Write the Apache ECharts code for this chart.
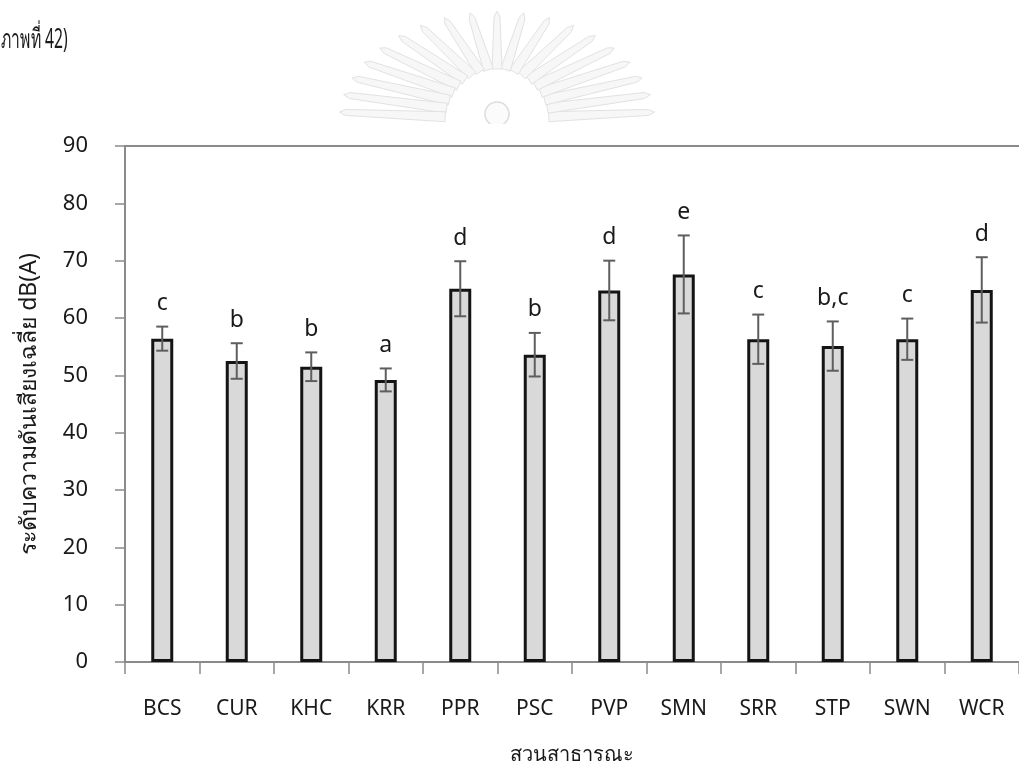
<!DOCTYPE html>
<html>
<head>
<meta charset="utf-8">
<script src="https://cdn.jsdelivr.net/npm/echarts@6/dist/echarts.min.js"></script>
<style>
  html, body { margin: 0; padding: 0; background: #ffffff; }
  #chart { width: 1019px; height: 770px; }
</style>
</head>
<body>
<div id="chart"></div>
<script>
// Mean sound pressure level per public park, with error margins and group letters
const categories = ['BCS', 'CUR', 'KHC', 'KRR', 'PPR', 'PSC', 'PVP', 'SMN', 'SRR', 'STP', 'SWN', 'WCR'];
const meanLevels = [56.4, 52.5, 51.5, 49.2, 65.1, 53.6, 64.8, 67.6, 56.3, 55.1, 56.3, 64.9];
const errorMargins = [2.1, 3.1, 2.5, 2.0, 4.8, 3.8, 5.2, 6.8, 4.3, 4.3, 3.6, 5.7];
const groupLetters = ['c', 'b', 'b', 'a', 'd', 'b', 'd', 'e', 'c', 'b,c', 'c', 'd'];
const yMin = 0;
const yMax = 90;
const yStep = 10;

const FONT = '"Noto Sans", "DejaVu Sans", sans-serif';
const AXIS_GREY = '#8a8a8a';

const errorData = categories.map((c, i) => [i, meanLevels[i] - errorMargins[i], meanLevels[i] + errorMargins[i]]);

// Faint sunburst emblem behind the heading
function emblem() {
  const cx = 497, cy = 121;
  const children = [];
  const n = 19;
  for (let k = 0; k < n; k++) {
    const a = Math.PI * (k + 0.5) / n;
    const ca = Math.cos(a), sa = Math.sin(a);
    const rin = 52;
    const routX = 152, routY = 104;
    const x1 = cx + ca * rin, y1 = cy - sa * rin;
    const x2 = cx + ca * routX, y2 = cy - sa * routY;
    const dx = x2 - x1, dy = y2 - y1;
    const len = Math.sqrt(dx * dx + dy * dy);
    const nx = -dy / len * 5, ny = dx / len * 5;
    children.push({
      type: 'polygon',
      shape: { points: [
        [x1 + nx, y1 + ny], [x2 + nx * 0.6, y2 + ny * 0.6], [x2 + dx / len * 6, y2 + dy / len * 6],
        [x2 - nx * 0.6, y2 - ny * 0.6], [x1 - nx, y1 - ny]
      ] },
      style: { fill: '#f7f7f7', stroke: '#e2e2e2', lineWidth: 1 }
    });
  }
  children.push({
    type: 'circle', shape: { cx: cx, cy: cy - 7, r: 12 },
    style: { fill: '#fbfbfb', stroke: '#dcdcdc', lineWidth: 1.5 }
  });
  return {
    type: 'group',
    silent: true,
    z: -10,
    children: children,
    clipPath: { type: 'rect', shape: { x: 300, y: 0, width: 420, height: 124 } }
  };
}

const chart = echarts.init(document.getElementById('chart'), null, { renderer: 'canvas' });

chart.setOption({
  backgroundColor: '#ffffff',
  animation: false,
  textStyle: { fontFamily: FONT },
  graphic: [
    emblem(),
    {
      type: 'text', x: 1, y: 27, z: 10, scaleX: 0.58,
      style: { text: 'ภาพที่ 42)', fill: '#1a1a1a', font: '27px ' + FONT }
    }
  ],
  grid: { left: 125, top: 146, width: 904, height: 517, containLabel: false },
  xAxis: [
    {
      type: 'category',
      data: categories,
      name: 'สวนสาธารณะ',
      nameLocation: 'middle',
      nameGap: 83,
      nameTextStyle: { fontSize: 20, color: '#1a1a1a', fontFamily: FONT },
      axisLine: { show: true, lineStyle: { color: AXIS_GREY, width: 2 } },
      axisTick: { show: true, alignWithLabel: false, length: 12, lineStyle: { color: AXIS_GREY, width: 1.5 } },
      axisLabel: { margin: 37, fontSize: 21, color: '#1a1a1a', fontFamily: FONT },
      splitLine: { show: false }
    },
    {
      type: 'category',
      data: categories,
      position: 'top',
      axisLine: { show: true, lineStyle: { color: AXIS_GREY, width: 2 } },
      axisTick: { show: false },
      axisLabel: { show: false },
      splitLine: { show: false }
    }
  ],
  yAxis: {
    type: 'value',
    min: yMin,
    max: yMax,
    interval: yStep,
    name: 'ระดับความดันเสียงเฉลี่ย dB(A)',
    nameLocation: 'middle',
    nameGap: 84,
    nameRotate: 90,
    nameTextStyle: { fontSize: 23, color: '#1a1a1a', fontFamily: FONT },
    axisLine: { show: true, lineStyle: { color: AXIS_GREY, width: 2 } },
    axisTick: { show: true, length: 10, lineStyle: { color: AXIS_GREY, width: 1.5 } },
    axisLabel: { margin: 37, fontSize: 22, color: '#1a1a1a', fontFamily: FONT },
    splitLine: { show: false }
  },
  series: [
    {
      type: 'bar',
      data: meanLevels,
      barWidth: 22,
      itemStyle: { color: '#d9d9d9', borderColor: '#141414', borderWidth: 3 },
      z: 2
    },
    {
      type: 'custom',
      data: errorData,
      z: 5,
      renderItem: function (params, api) {
        const i = api.value(0);
        const lo = api.coord([i, api.value(1)]);
        const hi = api.coord([i, api.value(2)]);
        const half = 6;
        const st = { stroke: '#5e5e5e', lineWidth: 2 };
        return {
          type: 'group',
          children: [
            { type: 'line', shape: { x1: lo[0], y1: lo[1], x2: hi[0], y2: hi[1] }, style: st },
            { type: 'line', shape: { x1: lo[0] - half, y1: lo[1], x2: lo[0] + half, y2: lo[1] }, style: st },
            { type: 'line', shape: { x1: hi[0] - half, y1: hi[1], x2: hi[0] + half, y2: hi[1] }, style: st },
            {
              type: 'text', x: hi[0], y: hi[1] - 23,
              style: {
                text: groupLetters[i], fill: '#1a1a1a', font: '23px ' + FONT,
                align: 'center', verticalAlign: 'middle'
              }
            }
          ]
        };
      }
    }
  ]
});
</script>
</body>
</html>
